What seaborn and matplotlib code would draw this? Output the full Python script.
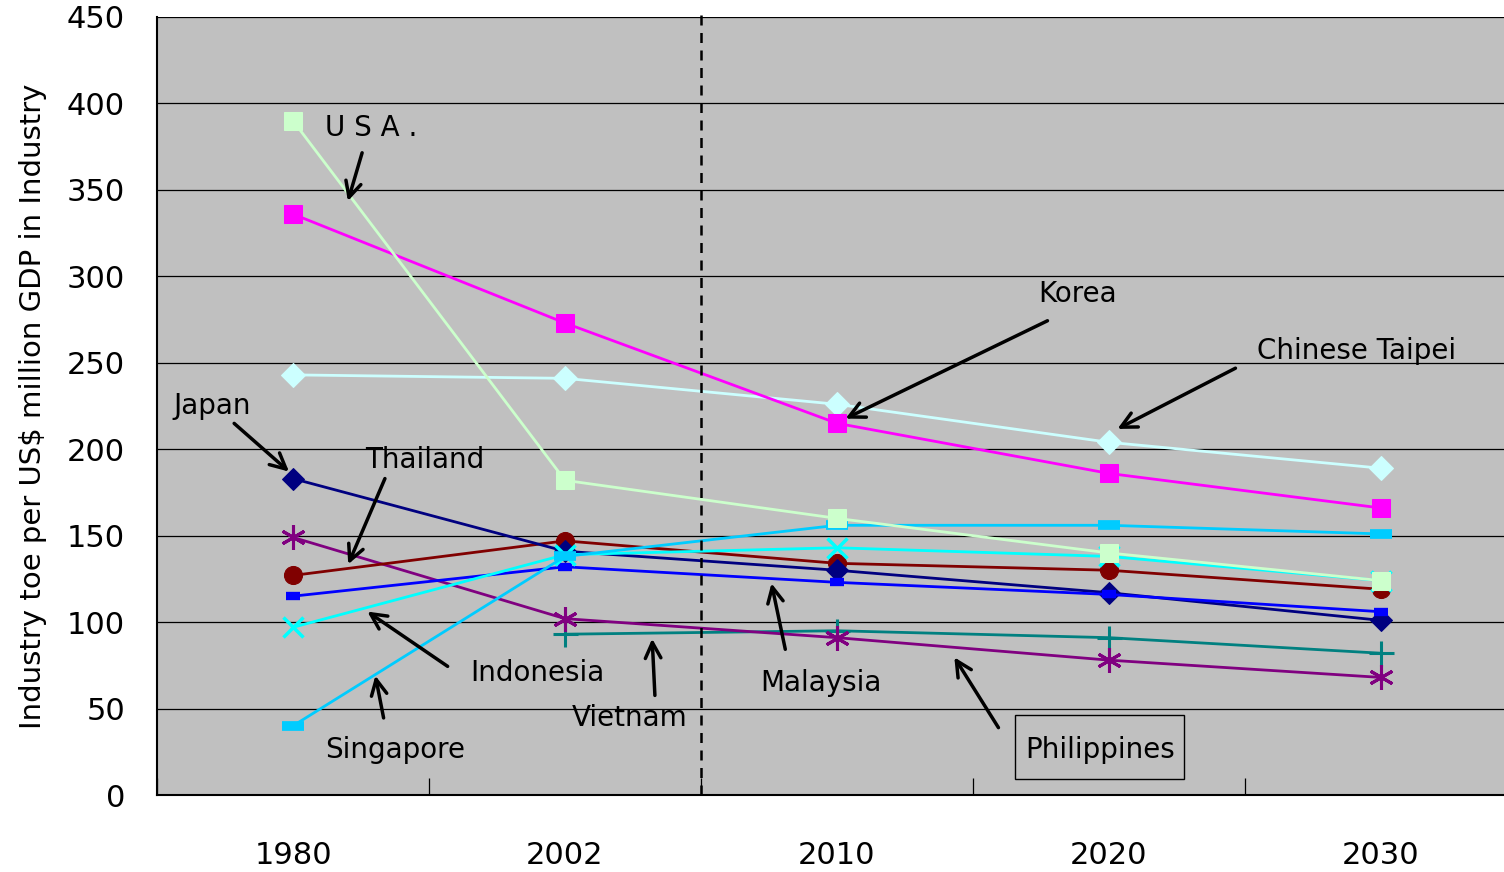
import matplotlib
matplotlib.use("Agg")
import matplotlib.pyplot as plt
from matplotlib.patches import Rectangle
import seaborn as sns
import numpy as np
import pandas as pd

years = ["1980", "2002", "2010", "2020", "2030"]

usa = [390, 182, 160, 140, 124]
korea = [336, 273, 215, 186, 166]
chinese_taipei = [243, 241, 226, 204, 189]
japan = [183, 141, 130, 117, 101]
thailand = [127, 147, 134, 130, 119]
indonesia = [115, 132, 123, 116, 106]
singapore = [40, 138, 156, 156, 151]
malaysia = [97, 139, 143, 138, 124]
vietnam = [np.nan, 93, 95, 91, 82]
philippines = [149, 102, 91, 78, 68]

series = [
    ("Vietnam", vietnam, "#008080", dict(marker="+", markersize=18, markeredgewidth=2.2)),
    ("Philippines", philippines, "#800080", dict(marker=(6, 2, 0), markersize=18, markeredgewidth=2.2)),
    ("Thailand", thailand, "#800000", dict(marker="o", markersize=13)),
    ("Japan", japan, "#000080", dict(marker="D", markersize=11)),
    ("Indonesia", indonesia, "#0000FF", dict(marker="_", markersize=10, markeredgewidth=6)),
    ("Malaysia", malaysia, "#00FFFF", dict(marker="x", markersize=14, markeredgewidth=2.5)),
    ("Singapore", singapore, "#00CCFF", dict(marker="_", markersize=16, markeredgewidth=7)),
    ("Chinese Taipei", chinese_taipei, "#CCFFFF", dict(marker="D", markersize=12)),
    ("Korea", korea, "#FF00FF", dict(marker="s", markersize=13)),
    ("U.S.A.", usa, "#CCFFCC", dict(marker="s", markersize=13)),
]

sns.set_theme(style="white")
plt.rcParams["font.family"] = ["DejaVu Sans"]
plt.rcParams["text.color"] = "black"
plt.rcParams["xtick.color"] = "black"
plt.rcParams["ytick.color"] = "black"
plt.rcParams["axes.labelcolor"] = "black"

fig = plt.figure(figsize=(15.04, 8.72), dpi=100)
ax = fig.add_axes([157 / 1504, 1 - 795 / 872, 1347 / 1504, 778 / 872])
ax.set_facecolor("#C0C0C0")

xpos = np.arange(len(years))
for name, vals, color, mk in series:
    df = pd.DataFrame({"x": xpos, "y": vals}).dropna()
    sns.lineplot(data=df, x="x", y="y", ax=ax, color=color, linewidth=2.0,
                 markeredgecolor=color, legend=False, zorder=3, **mk)

ax.set_yticks(np.arange(0, 451, 50))
ax.yaxis.grid(True, color="black", linewidth=0.9)
ax.xaxis.grid(False)
ax.set_axisbelow(True)

ax.set_xticks(xpos)
ax.set_xticklabels(years)
ax.set_xticks(np.arange(-0.5, 4.5, 1.0), minor=True)
ax.set_xlim(-0.5, -0.5 + 1347 / 272)
ax.set_ylim(0, 450)
ax.tick_params(axis="x", which="major", bottom=True, length=0, pad=33, labelsize=22)
ax.tick_params(axis="x", which="minor", bottom=True, direction="in", length=12,
               width=0.9, color="black")
ax.tick_params(axis="y", length=0, pad=23, labelsize=22)

for side in ["left", "bottom"]:
    ax.spines[side].set_color("black")
    ax.spines[side].set_linewidth(1.5)
ax.spines["right"].set_visible(False)
ax.spines["top"].set_visible(False)

ax.set_xlabel("")
ax.set_ylabel("Industry toe per US$ million GDP in Industry", fontsize=21, labelpad=14)

# Vertical dashed divider between historical and projected years
ax.axvline(1.5, ymin=0, ymax=1.01, color="black", linestyle=(0, (4, 3)),
           linewidth=1.8, zorder=4, clip_on=False)

# Country labels with arrows: text position, arrow tip, arrow tail
arrow_kw = dict(arrowstyle="->", color="black", lw=2.5, mutation_scale=28)
labels = [
    ("U S A .", (0.118, 386), (0.199, 342), (0.257, 373)),
    ("Korea", (2.739, 290), (2.022, 217), (2.783, 275)),
    ("Chinese Taipei", (3.544, 257), (3.022, 211), (3.474, 247.6)),
    ("Japan", (-0.441, 225), (-0.007, 186), (-0.224, 216)),
    ("Thailand", (0.265, 194), (0.199, 132), (0.342, 184.5)),
    ("Indonesia", (0.651, 70.6), (0.265, 107), (0.577, 73.5)),
    ("Singapore", (0.118, 26), (0.301, 70.6), (0.335, 43)),
    ("Vietnam", (1.026, 44.5), (1.32, 92), (1.331, 56)),
    ("Malaysia", (1.717, 64.8), (1.757, 124), (1.812, 82.7)),
    ("Philippines", (2.691, 26), (2.426, 81), (2.599, 37.6)),
]
for text, (tx, ty), tip, tail in labels:
    ax.text(tx, ty, text, fontsize=20, ha="left", va="center", zorder=5)
    ax.annotate("", xy=tip, xytext=tail, arrowprops=arrow_kw, zorder=5)

# Frame around the Philippines label
ax.add_patch(Rectangle((2.654, 9.25), 0.622, 37.0, facecolor="none",
                       edgecolor="black", linewidth=1, zorder=5))

fig.savefig("out.png", dpi=100, facecolor="white")
